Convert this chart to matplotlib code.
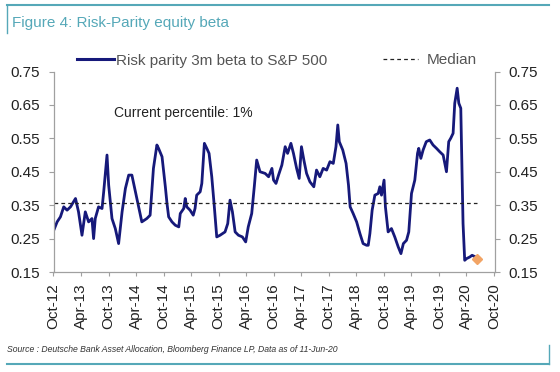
import matplotlib
matplotlib.use('Agg')
import matplotlib.pyplot as plt
import matplotlib.dates as mdates
from matplotlib.lines import Line2D
import pandas as pd

plt.rcParams['font.family'] = ['Liberation Sans', 'DejaVu Sans']

#data
dates = ['2012-10-03', '2012-10-25', '2012-11-16', '2012-12-08', '2012-12-30', '2013-01-22',
         '2013-02-24', '2013-03-16', '2013-04-08', '2013-04-30', '2013-05-22', '2013-06-13',
         '2013-06-24', '2013-07-05', '2013-07-27', '2013-08-19', '2013-08-30', '2013-09-21',
         '2013-10-02', '2013-10-24', '2013-11-15', '2013-12-07', '2013-12-30', '2014-01-21',
         '2014-02-12', '2014-03-05', '2014-04-07', '2014-05-10', '2014-06-12', '2014-07-04',
         '2014-07-26', '2014-08-18', '2014-08-29', '2014-09-21', '2014-10-13', '2014-10-24',
         '2014-11-04', '2014-11-26', '2014-12-18', '2015-01-10', '2015-01-20', '2015-02-12',
         '2015-02-22', '2015-03-04', '2015-03-26', '2015-04-16', '2015-04-28', '2015-05-09',
         '2015-06-01', '2015-06-12', '2015-06-29', '2015-07-15', '2015-07-30', '2015-08-17',
         '2015-09-03', '2015-09-19', '2015-10-11', '2015-11-13', '2015-12-01', '2015-12-16',
         '2016-01-01', '2016-01-19', '2016-02-10', '2016-03-07', '2016-03-29', '2016-04-15',
         '2016-05-08', '2016-05-25', '2016-06-10', '2016-07-02', '2016-08-05', '2016-08-28',
         '2016-09-19', '2016-09-30', '2016-10-16', '2016-11-02', '2016-11-24', '2016-12-16',
         '2017-01-01', '2017-01-23', '2017-02-09', '2017-03-02', '2017-03-19', '2017-04-03',
         '2017-04-19', '2017-05-07', '2017-05-29', '2017-06-24', '2017-07-12', '2017-08-03',
         '2017-08-25', '2017-09-17', '2017-10-09', '2017-10-31', '2017-11-18', '2017-11-30',
         '2017-12-10', '2018-01-02', '2018-01-24', '2018-02-09', '2018-02-20', '2018-03-12',
         '2018-04-04', '2018-04-26', '2018-05-17', '2018-06-09', '2018-06-20', '2018-07-01',
         '2018-07-16', '2018-08-03', '2018-08-25', '2018-09-05', '2018-09-16', '2018-10-03',
         '2018-10-12', '2018-10-30', '2018-11-21', '2018-12-13', '2019-01-05', '2019-01-23',
         '2019-02-08', '2019-03-01', '2019-03-16', '2019-04-03', '2019-04-25', '2019-05-13',
         '2019-05-21', '2019-06-04', '2019-06-19', '2019-07-10', '2019-08-02', '2019-08-24',
         '2019-09-16', '2019-10-07', '2019-10-30', '2019-11-21', '2019-12-06', '2019-12-19',
         '2020-01-04', '2020-01-15', '2020-01-31', '2020-02-11', '2020-02-24', '2020-03-04',
         '2020-03-10', '2020-03-21', '2020-04-02', '2020-04-24', '2020-05-09', '2020-06-01',
         '2020-06-11']
beta = [0.275, 0.30, 0.315, 0.345, 0.335, 0.345,
        0.37, 0.33, 0.26, 0.33, 0.30, 0.31,
        0.25, 0.31, 0.345, 0.34, 0.39, 0.50,
        0.41, 0.31, 0.28, 0.235, 0.33, 0.40,
        0.44, 0.44, 0.37, 0.30, 0.31, 0.32,
        0.46, 0.53, 0.52, 0.495, 0.405, 0.355,
        0.315, 0.30, 0.29, 0.285, 0.325, 0.34,
        0.37, 0.345, 0.335, 0.32, 0.34, 0.38,
        0.39, 0.415, 0.535, 0.52, 0.505, 0.435,
        0.345, 0.255, 0.26, 0.27, 0.295, 0.365,
        0.33, 0.27, 0.26, 0.255, 0.24, 0.285,
        0.325, 0.405, 0.485, 0.45, 0.445, 0.435,
        0.46, 0.425, 0.415, 0.44, 0.47, 0.525,
        0.505, 0.535, 0.505, 0.46, 0.43, 0.525,
        0.485, 0.445, 0.42, 0.405, 0.455, 0.435,
        0.46, 0.455, 0.48, 0.475, 0.525, 0.59,
        0.54, 0.515, 0.475, 0.41, 0.345, 0.325,
        0.30, 0.265, 0.235, 0.23, 0.23, 0.265,
        0.335, 0.38, 0.385, 0.405, 0.38, 0.425,
        0.345, 0.27, 0.28, 0.255, 0.225, 0.205,
        0.235, 0.245, 0.27, 0.385, 0.425, 0.505,
        0.52, 0.49, 0.515, 0.54, 0.545, 0.53,
        0.52, 0.51, 0.50, 0.45, 0.54, 0.55,
        0.565, 0.655, 0.70, 0.655, 0.64, 0.425,
        0.295, 0.185, 0.19, 0.195, 0.20, 0.195,
        0.19]
median = 0.357
yticks = [0.15, 0.25, 0.35, 0.45, 0.55, 0.65, 0.75]
teal = '#55a8b8'

df = pd.DataFrame({'date': pd.to_datetime(dates), 'beta': beta})

fig = plt.figure(figsize=(5.6, 3.72), dpi=100)
ax = fig.add_axes([53.5/560, 1-272/372, (495-53.5)/560, (272-71.5)/372])

l1, = ax.plot(df['date'], df['beta'], color='#16197a', lw=2.0, label='Risk parity 3m beta to S&P 500')
l2, = ax.plot([df['date'].iloc[0], df['date'].iloc[-1]], [median, median], color='#222222',
              lw=0.9, ls=(0, (3, 2.5)), label='Median')
ax.plot(df['date'].iloc[-1:], df['beta'].iloc[-1:], marker='D', ms=5, color='#f2a465', ls='none')

ax.set_ylim(0.15, 0.75)
ax.set_yticks(yticks)
ax.set_yticklabels(['%.2f' % v for v in yticks])
ax.set_xlim(pd.Timestamp('2012-10-01'), pd.Timestamp('2020-10-08'))
ax.xaxis.set_major_locator(mdates.MonthLocator(bymonth=[4, 10]))
ax.xaxis.set_major_formatter(mdates.DateFormatter('%b-%y'))
for lab in ax.get_xticklabels():
    lab.set_rotation(90)

ax.spines['top'].set_visible(False)
for s in ['left', 'right', 'bottom']:
    ax.spines[s].set_color('#a0a0a0')
    ax.spines[s].set_linewidth(0.9)
ax.tick_params(axis='y', left=True, right=True, labelleft=True, labelright=True,
               direction='out', length=3.5, pad=6, colors='#a0a0a0', labelcolor='#222222', labelsize=11)
ax.tick_params(axis='x', direction='out', length=3, pad=5, colors='#a0a0a0',
               labelcolor='#222222', labelsize=11)

ax.text(114/560, 1-112.7/372, 'Current percentile: 1%', transform=fig.transFigure,
        fontsize=10, color='#222222', va='center')

#two legend entries, placed separately
leg1 = fig.legend(handles=[l1], loc='center left', bbox_to_anchor=(77/560, 1-60.5/372),
                  frameon=False, fontsize=11, handlelength=2.4, handletextpad=0.15,
                  borderaxespad=0, borderpad=0)
leg2 = fig.legend(handles=[l2], loc='center left', bbox_to_anchor=(383/560, 1-60.5/372),
                  frameon=False, fontsize=11, handlelength=2.3, handletextpad=0.55,
                  borderaxespad=0, borderpad=0)
for leg in [leg1, leg2]:
    for t in leg.get_texts():
        t.set_color('#555555')
leg1.get_lines()[0].set_linewidth(2.2)

#frame of the figure
fig.add_artist(Line2D([7/560, 549/560], [1-5/372, 1-5/372], color=teal, lw=1.5, transform=fig.transFigure))
fig.add_artist(Line2D([7/560, 7/560], [1-5/372, 1-33/372], color=teal, lw=1.0, transform=fig.transFigure))
fig.add_artist(Line2D([7/560, 549/560], [1-364/372, 1-364/372], color=teal, lw=1.5, transform=fig.transFigure))
fig.add_artist(Line2D([549/560, 549/560], [1-345/372, 1-364/372], color=teal, lw=1.0, transform=fig.transFigure))

fig.text(12/560, 1-23/372, 'Figure 4: Risk-Parity equity beta', color=teal, fontsize=11, va='center')
fig.text(7/560, 1-350/372, 'Source : Deutsche Bank Asset Allocation, Bloomberg Finance LP, Data as of 11-Jun-20',
         fontsize=6.2, style='italic', color='#333333', va='center')

fig.savefig('out.png', dpi=100)
